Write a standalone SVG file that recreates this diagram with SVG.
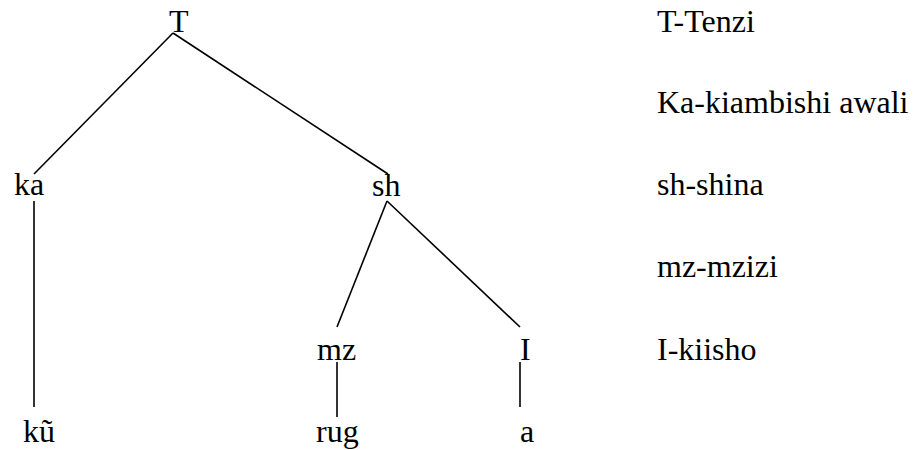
<svg xmlns="http://www.w3.org/2000/svg" width="914" height="450" viewBox="0 0 914 450">
  <style>
    .edge { stroke: #000; stroke-width: 1.6; fill: none; }
  </style>
  <rect width="914" height="450" fill="#fff"/>
  <g id="connectors">
    <line class="edge" x1="173" y1="33" x2="34" y2="174"/>
    <line class="edge" x1="173" y1="33" x2="388" y2="174"/>
    <line class="edge" x1="34" y1="201" x2="34" y2="407"/>
    <line class="edge" x1="387" y1="201" x2="337" y2="327"/>
    <line class="edge" x1="387" y1="201" x2="520" y2="327"/>
    <line class="edge" x1="337" y1="362" x2="337" y2="417"/>
    <line class="edge" x1="520" y1="362" x2="520" y2="407"/>
  </g>
  <g font-family="Liberation Serif, DejaVu Serif, serif" font-size="32" fill="#000">
    <g id="node-T"><text x="169" y="32">T</text></g>
    <g id="node-ka"><text x="14" y="195">ka</text></g>
    <g id="node-sh"><text x="372" y="196">sh</text></g>
    <g id="node-mz"><text x="317" y="360">mz</text></g>
    <g id="node-I"><text x="520" y="360">I</text></g>
    <g id="node-ku"><text x="23" y="442">kũ</text></g>
    <g id="node-rug"><text x="316" y="442">rug</text></g>
    <g id="node-a"><text x="520" y="442">a</text></g>
    <g id="legend">
      <text x="657" y="32">T-Tenzi</text>
      <text x="657" y="113">Ka-kiambishi awali</text>
      <text x="657" y="195">sh-shina</text>
      <text x="657" y="277">mz-mzizi</text>
      <text x="657" y="360">I-kiisho</text>
    </g>
  </g>
</svg>
